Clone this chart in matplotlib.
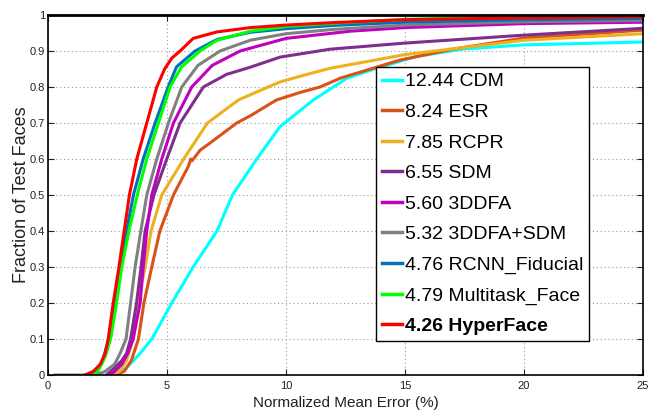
import matplotlib
matplotlib.use("Agg")
import matplotlib.pyplot as plt

plt.rcParams['font.family'] = ['Liberation Sans', 'DejaVu Sans']

labels = ["12.44 CDM", "8.24 ESR", "7.85 RCPR", "6.55 SDM", "5.60 3DDFA",
          "5.32 3DDFA+SDM", "4.76 RCNN_Fiducial", "4.79 Multitask_Face", "4.26 HyperFace"]
colors = ["#00FFFF", "#D95319", "#EDB120", "#7E2F8E", "#BF00BF",
          "#808080", "#0072BD", "#00FF00", "#FF0000"]

cdm_x = [2.7, 3.0, 3.3, 3.87, 4.36, 5.2, 6.1, 7.1, 7.75, 8.77, 9.75, 10.6, 11.15, 12.55, 13.8, 15.5, 17.4, 20, 25]
cdm_y = [0, 0.005, 0.02, 0.06, 0.1, 0.2, 0.3, 0.4, 0.5, 0.6, 0.69, 0.735, 0.764, 0.824, 0.852, 0.885, 0.905, 0.917, 0.925]

esr_x = [2.8, 3.2, 3.5, 3.8, 4.03, 4.36, 4.7, 5.27, 5.9, 6.0, 6.05, 6.4, 6.8, 7.93, 8.5, 9.6, 10.6, 11.43, 12.3, 14.8, 17, 20, 25]
esr_y = [0, 0.01, 0.04, 0.1, 0.2, 0.3, 0.4, 0.5, 0.58, 0.6, 0.595, 0.625, 0.644, 0.7, 0.72, 0.764, 0.785, 0.8, 0.825, 0.875, 0.905, 0.936, 0.958]

rcpr_x = [2.7, 3.0, 3.3, 3.58, 3.77, 4.08, 4.33, 4.78, 5.7, 6.7, 8.0, 8.9, 9.75, 10.6, 11.85, 15, 20, 25]
rcpr_y = [0, 0.01, 0.04, 0.1, 0.2, 0.3, 0.4, 0.5, 0.6, 0.7, 0.764, 0.79, 0.814, 0.83, 0.852, 0.89, 0.93, 0.948]

sdm_x = [2.45, 2.8, 3.1, 3.3, 3.47, 3.72, 3.91, 4.08, 4.45, 4.99, 5.55, 6.53, 7.5, 8.5, 9.75, 11.85, 15, 20, 25]
sdm_y = [0, 0.02, 0.04, 0.06, 0.1, 0.2, 0.3, 0.4, 0.5, 0.6, 0.7, 0.8, 0.835, 0.855, 0.883, 0.905, 0.922, 0.944, 0.963]

ddfa_x = [2.55, 2.8, 3.1, 3.35, 3.58, 3.87, 4.0, 4.15, 4.36, 4.78, 5.27, 6.04, 6.9, 8.07, 10, 12.7, 15, 20, 25]
ddfa_y = [0, 0.01, 0.03, 0.06, 0.1, 0.2, 0.3, 0.4, 0.5, 0.6, 0.7, 0.8, 0.86, 0.9, 0.935, 0.955, 0.965, 0.976, 0.98]

ddfasdm_x = [0.3, 2.0, 2.4, 2.8, 3.03, 3.28, 3.47, 3.66, 3.9, 4.15, 4.57, 5.06, 5.62, 6.3, 7.23, 8.5, 10, 12, 15, 20, 25]
ddfasdm_y = [0, 0, 0.01, 0.03, 0.06, 0.1, 0.2, 0.3, 0.4, 0.5, 0.6, 0.7, 0.8, 0.86, 0.9, 0.93, 0.948, 0.96, 0.972, 0.981, 0.985]

rcnn_x = [1.76, 2.0, 2.3, 2.55, 2.8, 3.05, 3.3, 3.59, 4.0, 4.5, 5.05, 5.4, 6.18, 7.1, 8.5, 10, 12, 15, 20, 25]
rcnn_y = [0, 0.01, 0.04, 0.1, 0.2, 0.3, 0.4, 0.5, 0.6, 0.7, 0.8, 0.856, 0.9, 0.932, 0.952, 0.962, 0.971, 0.98, 0.987, 0.99]

mtf_x = [1.9, 2.1, 2.4, 2.63, 2.88, 3.1, 3.4, 3.75, 4.15, 4.64, 5.13, 5.6, 6.39, 7.1, 8.5, 10, 12, 15, 20, 25]
mtf_y = [0, 0.01, 0.05, 0.1, 0.2, 0.3, 0.4, 0.5, 0.6, 0.7, 0.8, 0.855, 0.9, 0.93, 0.955, 0.968, 0.977, 0.988, 0.996, 0.998]

hyper_x = [1.55, 1.9, 2.2, 2.4, 2.53, 2.74, 2.98, 3.2, 3.42, 3.73, 4.15, 4.57, 4.9, 5.2, 5.55, 6.1, 7.1, 8.5, 10, 12, 15, 20, 25]
hyper_y = [0, 0.01, 0.03, 0.06, 0.1, 0.2, 0.3, 0.4, 0.5, 0.6, 0.7, 0.8, 0.85, 0.88, 0.9, 0.935, 0.953, 0.965, 0.972, 0.979, 0.987, 0.992, 0.995]

series_x = [cdm_x, esr_x, rcpr_x, sdm_x, ddfa_x, ddfasdm_x, rcnn_x, mtf_x, hyper_x]
series_y = [cdm_y, esr_y, rcpr_y, sdm_y, ddfa_y, ddfasdm_y, rcnn_y, mtf_y, hyper_y]

xticks = [0, 5, 10, 15, 20, 25]
yticks = [0, 0.1, 0.2, 0.3, 0.4, 0.5, 0.6, 0.7, 0.8, 0.9, 1]
yticklabels = ["0", "0.1", "0.2", "0.3", "0.4", "0.5", "0.6", "0.7", "0.8", "0.9", "1"]

fig = plt.figure(figsize=(6.51, 4.16), dpi=100)
ax = fig.add_axes([48/651, 41/416, 595/651, 360/416])

for xs, ys, c, lab in zip(series_x, series_y, colors, labels):
    ax.plot(xs, ys, color=c, lw=2.2, label=lab, solid_joinstyle='round')

ax.set_xlim(0, 25)
ax.set_ylim(0, 1)
ax.set_xticks(xticks)
ax.set_xticklabels([str(t) for t in xticks])
ax.set_yticks(yticks)
ax.set_yticklabels(yticklabels)
ax.tick_params(direction='in', top=True, right=True, length=4, width=0.8,
               labelsize=8, colors='#222222')
ax.tick_params(axis='y', pad=2)
ax.tick_params(axis='x', pad=4)
ax.grid(True, linestyle=(0, (1, 2.5)), color='#999999', lw=0.8)
for s in ax.spines.values():
    s.set_linewidth(1.2)
    s.set_color('black')
ax.spines['top'].set_linewidth(2.0)

ax.set_xlabel("Normalized Mean Error (%)", fontsize=11, color='#222222', labelpad=4)
ax.set_ylabel("Fraction of Test Faces", fontsize=13, color='#222222', labelpad=0)

leg = ax.legend(loc='upper left', bbox_to_anchor=((376-48)/595, (375-67)/360),
                borderaxespad=0, fancybox=False, framealpha=1, edgecolor='black',
                fontsize=14, handlelength=1.05, handletextpad=0.12,
                labelspacing=0.665, borderpad=0.3)
leg.get_frame().set_linewidth(1.0)
for line in leg.get_lines():
    line.set_linewidth(2.5)
leg.get_texts()[-1].set_fontweight('bold')

fig.savefig("out.png", dpi=100)
